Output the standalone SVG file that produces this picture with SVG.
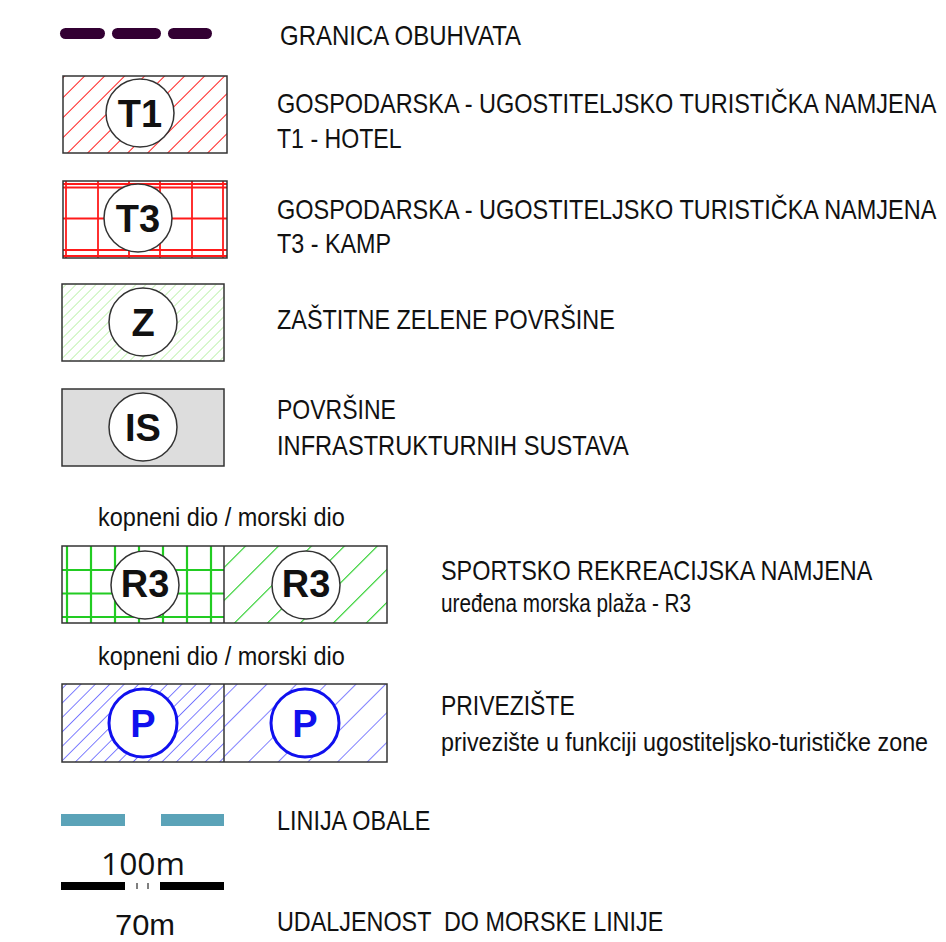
<svg xmlns="http://www.w3.org/2000/svg" width="946" height="942" viewBox="0 0 946 942">
<style>
.lbl{font-family:"Liberation Sans",Arial,sans-serif;font-size:28px;fill:#111;white-space:pre}
.sm{font-size:25px}
.code{font-family:"Liberation Sans",Arial,sans-serif;font-size:38px;font-weight:bold;fill:#111;text-anchor:middle}
.box{fill:none;stroke:#333;stroke-width:1.5}
.circ{fill:#fff;stroke:#333;stroke-width:1.5}
.num{font-family:"Open Sans","Liberation Sans",sans-serif;font-size:31px;fill:#111}
.num2{font-family:"Liberation Sans",Arial,sans-serif;font-size:30px;fill:#111}
</style>
<defs>
<pattern id="hT1" patternUnits="userSpaceOnUse" width="14.14" height="14.14" patternTransform="rotate(45)">
<line x1="0" y1="0" x2="0" y2="14.14" stroke="#ff1a1a" stroke-width="2"/>
</pattern>
<pattern id="hZ" patternUnits="userSpaceOnUse" width="7.07" height="7.07" patternTransform="rotate(45)">
<line x1="0" y1="0" x2="0" y2="7.07" stroke="#a6ec8e" stroke-width="1.3"/>
</pattern>
<pattern id="hR3" patternUnits="userSpaceOnUse" width="23.3" height="23.3" patternTransform="rotate(45)">
<line x1="0" y1="0" x2="0" y2="23.3" stroke="#22cc22" stroke-width="2.2"/>
</pattern>
<pattern id="hPL" patternUnits="userSpaceOnUse" width="10.2" height="10.2" patternTransform="rotate(45)">
<line x1="0" y1="0" x2="0" y2="10.2" stroke="#2a2aff" stroke-width="1.2"/>
</pattern>
<pattern id="hPR" patternUnits="userSpaceOnUse" width="21" height="21" patternTransform="rotate(45)">
<line x1="0" y1="0" x2="0" y2="21" stroke="#2a2aff" stroke-width="1.2"/>
</pattern>
</defs>

<g id="granica">
<g fill="#330033">
<rect x="60" y="28" width="45" height="11" rx="5.5"/>
<rect x="112" y="28" width="49" height="11" rx="5.5"/>
<rect x="168" y="28" width="44" height="11" rx="5.5"/>
</g>
<text class="lbl" transform="translate(280,44.5) scale(0.82,1)" textLength="294" lengthAdjust="spacingAndGlyphs">GRANICA OBUHVATA</text>
</g>

<g id="t1">
<rect x="63" y="76" width="164" height="77" fill="url(#hT1)"/>
<rect class="box" x="63" y="76" width="164" height="77"/>
<circle class="circ" cx="140" cy="113" r="34"/>
<text class="code" x="140" y="126.5">T1</text>
<text class="lbl" transform="translate(277,112.5) scale(0.82,1)" textLength="804" lengthAdjust="spacingAndGlyphs">GOSPODARSKA - UGOSTITELJSKO TURISTIČKA NAMJENA</text>
<text class="lbl" transform="translate(277,148) scale(0.82,1)" textLength="152" lengthAdjust="spacingAndGlyphs">T1 - HOTEL</text>
</g>

<g id="t3">
<g stroke="#ff1a1a" stroke-width="1.8">
<line x1="66" y1="181" x2="66" y2="258"/>
<line x1="98" y1="181" x2="98" y2="258"/>
<line x1="129" y1="181" x2="129" y2="258"/>
<line x1="160" y1="181" x2="160" y2="258"/>
<line x1="192" y1="181" x2="192" y2="258"/>
<line x1="223" y1="181" x2="223" y2="258"/>
<line x1="63" y1="184" x2="227" y2="184"/>
<line x1="63" y1="187.5" x2="227" y2="187.5"/>
<line x1="63" y1="218.5" x2="227" y2="218.5"/>
<line x1="63" y1="250" x2="227" y2="250"/>
<line x1="63" y1="256" x2="227" y2="256"/>
</g>
<rect class="box" x="63" y="181" width="164" height="77"/>
<circle class="circ" cx="138" cy="218" r="34"/>
<text class="code" x="138" y="231.5">T3</text>
<text class="lbl" transform="translate(277,218.5) scale(0.82,1)" textLength="804" lengthAdjust="spacingAndGlyphs">GOSPODARSKA - UGOSTITELJSKO TURISTIČKA NAMJENA</text>
<text class="lbl" transform="translate(277,253) scale(0.82,1)" textLength="139" lengthAdjust="spacingAndGlyphs">T3 - KAMP</text>
</g>

<g id="z">
<rect x="62" y="284" width="162" height="77" fill="url(#hZ)"/>
<rect class="box" x="62" y="284" width="162" height="77"/>
<circle class="circ" cx="143" cy="322" r="34"/>
<text class="code" x="143" y="335.5">Z</text>
<text class="lbl" transform="translate(277,329) scale(0.82,1)" textLength="412" lengthAdjust="spacingAndGlyphs">ZAŠTITNE ZELENE POVRŠINE</text>
</g>

<g id="is">
<rect x="62" y="389" width="162" height="77" fill="#dddddd" stroke="#333" stroke-width="1.5"/>
<circle class="circ" cx="143" cy="427" r="34"/>
<text class="code" x="143" y="440.5">IS</text>
<text class="lbl" transform="translate(277,419) scale(0.82,1)" textLength="145" lengthAdjust="spacingAndGlyphs">POVRŠINE</text>
<text class="lbl" transform="translate(277,455) scale(0.82,1)" textLength="429" lengthAdjust="spacingAndGlyphs">INFRASTRUKTURNIH SUSTAVA</text>
</g>

<g id="r3">
<text class="lbl sm" transform="translate(98,526) scale(0.82,1)" textLength="301" lengthAdjust="spacingAndGlyphs">kopneni dio / morski dio</text>
<g stroke="#22cc22" stroke-width="2.2">
<line x1="67" y1="546" x2="67" y2="623"/>
<line x1="91" y1="546" x2="91" y2="623"/>
<line x1="115" y1="546" x2="115" y2="623"/>
<line x1="139" y1="546" x2="139" y2="623"/>
<line x1="163" y1="546" x2="163" y2="623"/>
<line x1="187" y1="546" x2="187" y2="623"/>
<line x1="211" y1="546" x2="211" y2="623"/>
<line x1="62" y1="570" x2="224" y2="570"/>
<line x1="62" y1="593.5" x2="224" y2="593.5"/>
<line x1="62" y1="617" x2="224" y2="617"/>
</g>
<rect x="224" y="546" width="163" height="77" fill="url(#hR3)"/>
<rect class="box" x="62" y="546" width="325" height="77"/>
<line x1="224" y1="546" x2="224" y2="623" stroke="#333" stroke-width="1.5"/>
<circle class="circ" cx="145" cy="585" r="34"/>
<text class="code" x="145" y="597">R3</text>
<circle class="circ" cx="306" cy="585" r="34"/>
<text class="code" x="306" y="597">R3</text>
<text class="lbl" transform="translate(441,580) scale(0.82,1)" textLength="526" lengthAdjust="spacingAndGlyphs">SPORTSKO REKREACIJSKA NAMJENA</text>
<text class="lbl sm" transform="translate(441,612) scale(0.82,1)" textLength="305" lengthAdjust="spacingAndGlyphs">uređena morska plaža - R3</text>
</g>

<g id="p">
<text class="lbl sm" transform="translate(98,665) scale(0.82,1)" textLength="301" lengthAdjust="spacingAndGlyphs">kopneni dio / morski dio</text>
<rect x="62" y="684" width="162" height="78" fill="url(#hPL)"/>
<rect x="224" y="684" width="163" height="78" fill="url(#hPR)"/>
<rect class="box" x="62" y="684" width="325" height="78"/>
<line x1="224" y1="684" x2="224" y2="762" stroke="#333" stroke-width="1.5"/>
<circle cx="143" cy="723" r="34" fill="#fff" stroke="#1010ee" stroke-width="3"/>
<text class="code" x="143" y="736.5" style="fill:#1010ee">P</text>
<circle cx="305" cy="723" r="34" fill="#fff" stroke="#1010ee" stroke-width="3"/>
<text class="code" x="305" y="736.5" style="fill:#1010ee">P</text>
<text class="lbl" transform="translate(441,715) scale(0.82,1)" textLength="163" lengthAdjust="spacingAndGlyphs">PRIVEZIŠTE</text>
<text class="lbl sm" transform="translate(441,751) scale(0.82,1)" textLength="594" lengthAdjust="spacingAndGlyphs">privezište u funkciji ugostiteljsko-turističke zone</text>
</g>

<g id="obala">
<rect x="61" y="814" width="64" height="12" fill="#5ba3b8"/>
<rect x="161" y="814" width="63" height="12" fill="#5ba3b8"/>
<text class="lbl" transform="translate(277,829.5) scale(0.82,1)" textLength="187" lengthAdjust="spacingAndGlyphs">LINIJA OBALE</text>
</g>

<g id="udaljenost">
<text class="num" x="101" y="875" textLength="84" lengthAdjust="spacingAndGlyphs">100m</text>
<rect x="61" y="882" width="64" height="8" fill="#000"/>
<rect x="160" y="882" width="64" height="8" fill="#000"/>
<line x1="137" y1="883" x2="137" y2="889" stroke="#000" stroke-width="1"/>
<line x1="148" y1="883" x2="148" y2="889" stroke="#000" stroke-width="1"/>
<text class="num2" x="115" y="935" textLength="60" lengthAdjust="spacingAndGlyphs">70m</text>
<text class="lbl" transform="translate(277,930.5) scale(0.82,1)" textLength="471" lengthAdjust="spacingAndGlyphs">UDALJENOST  DO MORSKE LINIJE</text>
</g>
</svg>
